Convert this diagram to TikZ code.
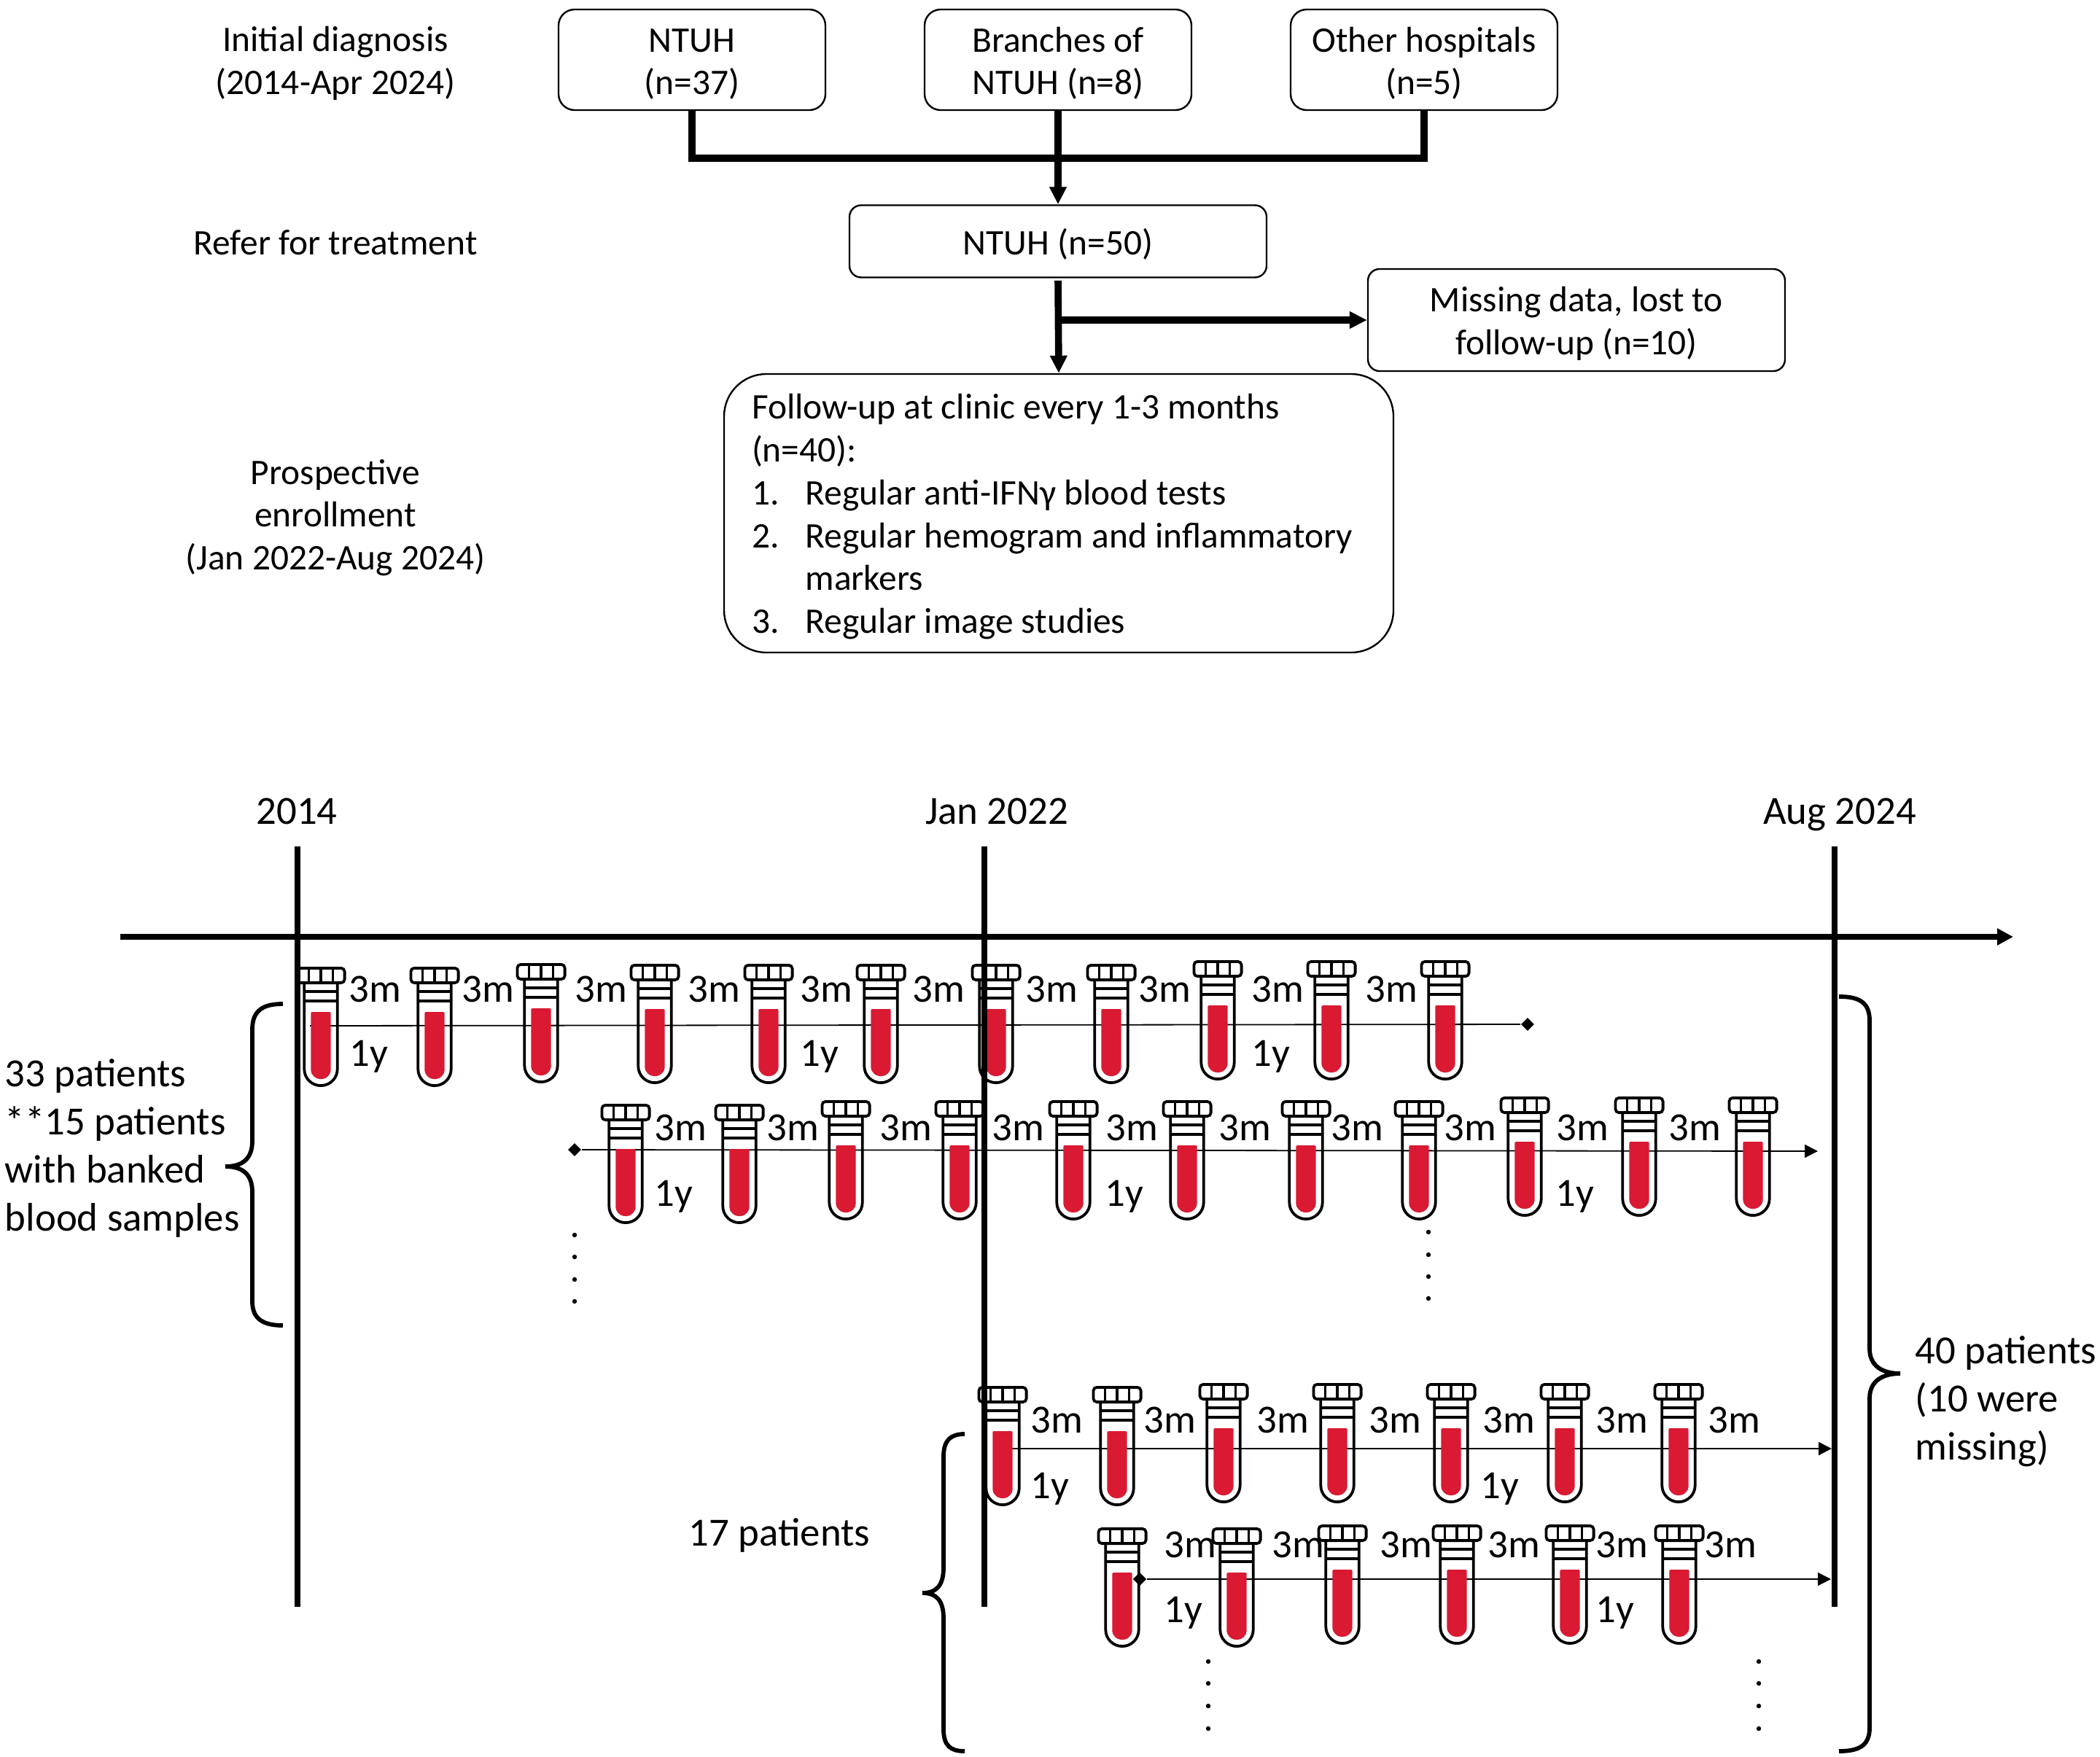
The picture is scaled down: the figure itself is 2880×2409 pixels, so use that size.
\documentclass[tikz,border=0pt]{standalone}
\usepackage{fontspec}
\setmainfont{Carlito}
\usetikzlibrary{arrows.meta,shapes.geometric}
\definecolor{blood}{HTML}{D91A32}
\tikzset{
  x=0.25pt,y=-0.25pt,
  box/.style={draw,line width=0.6pt,rounded corners=5.5pt,align=center,inner sep=0pt,minimum width=91.5pt,minimum height=34.5pt,font=\topfont},
  lbl/.style={align=center,inner sep=0pt,font=\topfont},
  tl/.style={inner sep=0pt,font=\tlfont},
  mark3/.style={inner sep=0pt,font=\tlfont,anchor=base},
  conn/.style={line width=2.4pt},
  connarrow/.style={line width=2.4pt,-{Triangle[length=6pt,width=5.6pt]}},
  thin line/.style={line width=0.45pt},
  thin arrow/.style={line width=0.45pt,-{Triangle[length=4.5pt,width=4.5pt]}},
  stamp/.style={diamond,fill=black,inner sep=0pt,minimum size=4.6pt},
  axisline/.style={line width=1.9pt},
  bracel/.style={line width=1.45pt},
  pdot/.style={circle,fill=black,inner sep=0pt,minimum size=1.6pt},
  tube/.pic={
    \fill[blood,rounded corners=0.5pt] (-13.7,62) -- (-13.7,140) .. controls (-13.7,147.6) and (-7.6,154) .. (0,154) .. controls (7.6,154) and (13.7,147.6) .. (13.7,140) -- (13.7,62) -- cycle;
    \draw[line width=0.95pt] (-22.7,22) -- (-22.7,140.5) .. controls (-22.7,153) and (-12.5,163.1) .. (0,163.1) .. controls (12.5,163.1) and (22.7,153) .. (22.7,140.5) -- (22.7,22);
    \draw[line width=0.95pt] (-22.7,34) -- (22.7,34) (-22.7,47) -- (22.7,47);
    \draw[line width=0.95pt,rounded corners=1.2pt] (-32.6,1.9) rectangle (32.6,22.1);
    \draw[line width=0.95pt] (-16.5,1.9) -- (-16.5,22.1) (0,1.9) -- (0,22.1) (16.5,1.9) -- (16.5,22.1);
  }
}
\newcommand{\topfont}{\fontsize{12.35}{14.7}\selectfont}
\newcommand{\tlfont}{\fontsize{13.7}{16.5}\selectfont}
\newcommand{\li}[1]{\makebox[18.4pt][l]{#1}}
\newcommand{\fl}{\rule{0pt}{11pt}}
\begin{document}
\begin{tikzpicture}
\path[use as bounding box] (0,0) rectangle (2880,2409);

% ---- flow chart
\node[lbl] (tInit) at (460,87) {Initial diagnosis\\(2014-Apr 2024)};
\node[lbl] (tRefer) at (460,333) {Refer for treatment};
\node[lbl] (tPros) at (460,710) {Prospective\\enrollment\\(Jan 2022-Aug 2024)};

\node[box] (ntuh) at (949,82) {\fl NTUH\\(n=37)};
\node[box] (branch) at (1451,82) {\fl Branches of\\NTUH (n=8)};
\node[box] (other) at (1953,82) {\fl Other hospitals\\(n=5)};
\node[box,minimum width=143pt,minimum height=24.75pt,rounded corners=4pt] (n50) at (1451,331) {\fl NTUH (n=50)};
\node[box,minimum width=143pt,minimum height=35pt,rounded corners=4pt] (miss) at (2162,439) {\fl Missing data, lost to\\follow-up (n=10)};
\node[box,align=flush left,text width=210.5pt,inner xsep=9.5pt,minimum width=229.5pt,minimum height=95.5pt,rounded corners=14.5pt] (fu) at (1452,704) {\fl Follow-up at clinic every 1-3 months\\(n=40):\\\li{1.}Regular anti-IFNγ blood tests\\\li{2.}Regular hemogram and inflammatory\\\hspace*{18.4pt}markers\\\li{3.}Regular image studies};

\coordinate (jL) at (ntuh.south |- 0,217);
\coordinate (jM) at (branch.south |- 0,217);
\coordinate (jR) at (other.south |- 0,217);
\coordinate (jB) at (n50.south |- miss.west);
\draw[conn] (ntuh.south) -- (jL);
\draw[conn] (other.south) -- (jR);
\draw[line width=2.6pt] ([xshift=-1.2pt]jL) -- ([xshift=1.2pt]jR);
\draw[connarrow] (branch.south) -- (n50.north);
\draw[connarrow] ([yshift=-0.8pt]n50.south) -- (fu.north);
\draw[connarrow] (jB) -- (miss.west);

% ---- year labels
\node[mark3] (y2014) at (407,1130) {2014};
\node[mark3] (y2022) at (1367,1130) {Jan 2022};
\node[mark3] (y2024) at (2523,1130) {Aug 2024};

% ---- thin timelines behind the tubes
\coordinate (r1a) at (425,1407);
\node[stamp] (r1b) at (2095,1405) {};
\node[stamp] (r2a) at (788,1577) {};
\coordinate (r2b) at (2493,1579);
\coordinate (r3a) at (1377,1987);
\coordinate (r3b) at (2512,1987);
\node[stamp] (r4a) at (1563,2166) {};
\coordinate (r4b) at (2511,2166);
\draw[thin line] (r1a) -- (r1b);
\draw[thin arrow] (r2a) -- (r2b);
\draw[thin arrow] (r3a) -- (r3b);
\draw[thin arrow] (r4a) -- (r4b);

% ---- tubes
\foreach \tx/\ty in {440/1326,596/1326,742/1321,898/1322,1054/1322,1208/1322,1366/1322,1524/1322,1670/1317,1826/1317,1982/1317,
                     858/1514,1014/1514,1160/1509,1316/1509,1472/1509,1628/1509,1791/1509,1946/1509,2091/1504,2248/1504,2404/1504,
                     1375/1901,1532/1901,1678/1897,1834/1897,1990/1897,2146/1897,2302/1897,
                     1539/2095,1696/2095,1841/2091,1998/2091,2153/2091,2303/2091}
  \pic at (\tx,\ty) {tube};
\node[stamp] at (r4a) {};

% ---- axis
\coordinate (axL) at (165,1285);
\coordinate (axR) at (2761,1285);
\draw[axisline,-{Triangle[length=5.5pt,width=5.5pt]}] (axL) -- (axR);
\coordinate (v1t) at (408,1161); \coordinate (v1b) at (408,2204);
\coordinate (v2t) at (1350,1161); \coordinate (v2b) at (1350,2204);
\coordinate (v3t) at (2516,1161); \coordinate (v3b) at (2516,2204);
\draw[axisline] (v1t) -- (v1b);
\draw[axisline] (v2t) -- (v2b);
\draw[axisline] (v3t) -- (v3b);

% ---- interval labels
\foreach \lx in {514,669,824,979,1133,1287,1442,1597,1752,1908}
  \node[mark3] (a\lx) at (\lx,1374) {3m};
\foreach \lx in {506,1124,1743}
  \node[mark3] (b\lx) at (\lx,1462) {1y};
\foreach \lx in {933,1087,1242,1396,1552,1707,1861,2016,2170,2324}
  \node[mark3] (c\lx) at (\lx,1564) {3m};
\foreach \lx in {924,1542,2160}
  \node[mark3] (d\lx) at (\lx,1654) {1y};
\foreach \lx in {1449,1604,1759,1913,2069,2224,2378}
  \node[mark3] (e\lx) at (\lx,1965) {3m};
\foreach \lx in {1440,2057}
  \node[mark3] (f\lx) at (\lx,2055) {1y};
\foreach \lx in {1632,1780,1928,2076,2224,2373}
  \node[mark3] (g\lx) at (\lx,2136) {3m};
\foreach \lx in {1623,2215}
  \node[mark3] (h\lx) at (\lx,2225) {1y};

% ---- continuation dots
\foreach \dx/\dy in {788/1694,788/1724,788/1755,788/1785,
                     1959/1690,1959/1721,1959/1751,1959/1781,
                     1657/2279,1657/2309,1657/2340,1657/2371,
                     2412/2279,2412/2309,2412/2340,2412/2371}
  \node[pdot] (p\dx-\dy) at (\dx,\dy) {};

% ---- braces
\draw[bracel] (388,1377) .. controls (362,1377) and (346,1385) .. (346,1412) -- (346,1565) .. controls (346,1590) and (332,1600) .. (309,1600) .. controls (332,1600) and (346,1610) .. (346,1635) -- (346,1785) .. controls (346,1810) and (362,1818) .. (388,1818);
\draw[bracel] (1323,1967) .. controls (1304,1967) and (1294,1975) .. (1294,1998) -- (1294,2150) .. controls (1294,2175) and (1284,2185) .. (1265,2185) .. controls (1284,2185) and (1294,2195) .. (1294,2220) -- (1294,2372) .. controls (1294,2395) and (1304,2402) .. (1323,2402);
\draw[bracel] (2522,1367) .. controls (2550,1367) and (2564,1375) .. (2564,1400) -- (2564,1850) .. controls (2564,1874) and (2582,1884) .. (2606,1884) .. controls (2582,1884) and (2564,1894) .. (2564,1918) -- (2564,2370) .. controls (2564,2394) and (2550,2402) .. (2522,2402);

% ---- side labels
\node[tl,align=left,anchor=west] (s33) at (6,1575) {33 patients\\**15 patients\\with banked\\blood samples};
\node[tl] (s17) at (1069,2106) {17 patients};
\node[tl,align=left,anchor=west] (s40) at (2626,1922) {40 patients\\(10 were\\missing)};
\end{tikzpicture}
\end{document}
